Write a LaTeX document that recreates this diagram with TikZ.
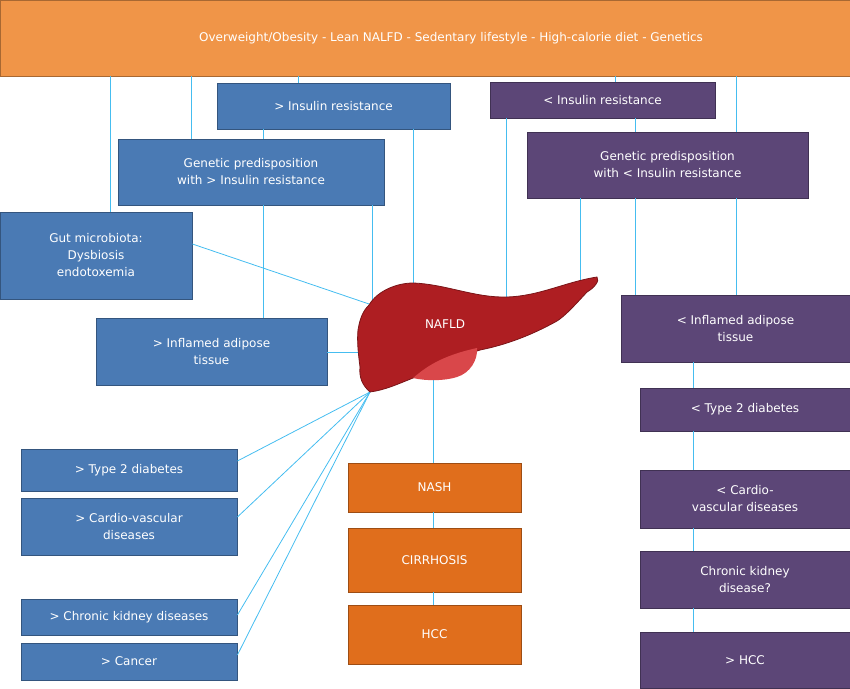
\documentclass[tikz,border=0pt]{standalone}
\usepackage{fontspec}
\setmainfont{DejaVu Sans}
\begin{document}
\begin{tikzpicture}[x=1pt,y=-1pt,
 box/.style={draw=#1!70!black,line width=0.8pt,text=white,align=center,font=\fontsize{12}{17}\selectfont,inner sep=0pt},
 blue/.style={box=bluec,fill=bluec},
 purp/.style={box=purpc,fill=purpc},
 oran/.style={box=oranc,fill=oranc},
 ln/.style={draw=linec,line width=0.8pt}]
\definecolor{bluec}{HTML}{4A7AB4}
\definecolor{purpc}{HTML}{5C4677}
\definecolor{oranc}{HTML}{E06E1C}
\definecolor{topc}{HTML}{F09548}
\definecolor{linec}{HTML}{45BDF0}
\definecolor{liverc}{HTML}{AE1E22}
\definecolor{gallc}{HTML}{D9474A}
\useasboundingbox (0,0) rectangle (850,688);
\newcommand\bx[7]{\node[#2,minimum width={#5-#3},minimum height={#6-#4}] (#1) at ({(#3+#5)/2},{(#4+#6)/2}) {#7};}
\bx{top}{box=topc,fill=topc}{0}{0}{850}{76}{\hspace*{52pt}Overweight/Obesity - Lean NALFD - Sedentary lifestyle - High-calorie diet - Genetics}
\bx{bir}{blue}{217}{83}{450}{129}{> Insulin resistance}
\bx{bgen}{blue}{118}{139}{384}{205}{Genetic predisposition\\with > Insulin resistance}
\bx{gut}{blue}{0}{212}{192}{299}{Gut microbiota:\\Dysbiosis\\endotoxemia}
\bx{binf}{blue}{96}{318}{327}{385}{> Inflamed adipose\\tissue}
\bx{bt2}{blue}{21}{449}{237}{491}{> Type 2 diabetes}
\bx{bcv}{blue}{21}{498}{237}{555}{> Cardio-vascular\\diseases}
\bx{bck}{blue}{21}{599}{237}{635}{> Chronic kidney diseases}
\bx{bca}{blue}{21}{643}{237}{680}{> Cancer}
\bx{nash}{oran}{348}{463}{521}{512}{NASH}
\bx{cir}{oran}{348}{528}{521}{592}{CIRRHOSIS}
\bx{hcc}{oran}{348}{605}{521}{664}{HCC}
\bx{pir}{purp}{490}{82}{715}{118}{< Insulin resistance}
\bx{pgen}{purp}{527}{132}{808}{198}{Genetic predisposition\\with < Insulin resistance}
\bx{pinf}{purp}{621}{295}{850}{362}{< Inflamed adipose\\tissue}
\bx{pt2}{purp}{640}{388}{850}{431}{< Type 2 diabetes}
\bx{pcv}{purp}{640}{470}{850}{528}{< Cardio-\\vascular diseases}
\bx{pck}{purp}{640}{551}{850}{608}{Chronic kidney\\disease?}
\bx{phcc}{purp}{640}{632}{850}{688}{> HCC}
% liver
\begin{scope}[on background layer/.try]
\end{scope}
\coordinate (lA) at (372,305);
\coordinate (lB) at (413,283);
\coordinate (lC) at (506,297);
\coordinate (lD) at (580,280);
\coordinate (lE) at (370,392);
\coordinate (lF) at (360,352);
\coordinate (lG) at (433,378);
% connectors
\draw[ln] (top.south -| 110,0) -- (gut.north -| 110,0);
\draw[ln] (top.south -| 191,0) -- (bgen.north -| 191,0);
\draw[ln] (top.south -| 298,0) -- (bir.north -| 298,0);
\draw[ln] (bir.south -| 263,0) -- (bgen.north -| 263,0);
\draw[ln] (bgen.south -| 263,0) -- (binf.north -| 263,0);
\draw[ln] (bgen.south -| lA) -- (lA);
\draw[ln] (bir.south -| lB) -- (lB);
\draw[ln] (gut.east |- 0,244) -- (lA);
\draw[ln] (binf.east |- lF) -- (lF);
\draw[ln] (top.south -| 615,0) -- (pir.north -| 615,0);
\draw[ln] (pir.south -| lC) -- (lC);
\draw[ln] (pir.south -| 635,0) -- (pgen.north -| 635,0);
\draw[ln] (top.south -| 736,0) -- (pgen.north -| 736,0);
\draw[ln] (pgen.south -| lD) -- (lD);
\draw[ln] (pgen.south -| 635,0) -- (pinf.north -| 635,0);
\draw[ln] (pgen.south -| 736,0) -- (pinf.north -| 736,0);
\draw[ln] (pinf.south -| 693,0) -- (pt2.north -| 693,0);
\draw[ln] (pt2.south -| 693,0) -- (pcv.north -| 693,0);
\draw[ln] (pcv.south -| 693,0) -- (pck.north -| 693,0);
\draw[ln] (pck.south -| 693,0) -- (phcc.north -| 693,0);
\draw[ln] (lE) -- (bt2.east |- 0,461);
\draw[ln] (lE) -- (bcv.east |- 0,517);
\draw[ln] (lE) -- (bck.east |- 0,615);
\draw[ln] (lE) -- (bca.east |- 0,655);
\draw[ln] (lG) -- (nash.north -| lG);
\draw[ln] (nash.south -| lG) -- (cir.north -| lG);
\draw[ln] (cir.south -| lG) -- (hcc.north -| lG);
% liver drawing
\fill[liverc,draw=liverc!70!black,line width=0.8pt]
 (369,305) .. controls (378,290) and (398,283) .. (413,283)
 .. controls (445,284) and (475,298) .. (507,297)
 .. controls (540,296) and (565,282) .. (597,277)
 .. controls (600,281) and (594,288) .. (587,292)
 .. controls (575,305) and (565,316) .. (557,321)
 .. controls (530,336) and (505,345) .. (480,350)
 .. controls (455,358) and (430,372) .. (413,378)
 .. controls (398,384) and (385,390) .. (370,392)
 .. controls (362,385) and (359,377) .. (360,367)
 .. controls (358,352) and (357,340) .. (358,330)
 .. controls (360,318) and (363,311) .. (369,305) -- cycle;
\fill[gallc] (413,378) .. controls (425,368) and (440,356) .. (477,348)
 .. controls (478,360) and (470,373) .. (457,377)
 .. controls (445,381) and (425,381) .. (413,378) -- cycle;
\node[text=white,font=\fontsize{12}{14}\selectfont] (nafld) at (445,324) {NAFLD};
\end{tikzpicture}
\end{document}
